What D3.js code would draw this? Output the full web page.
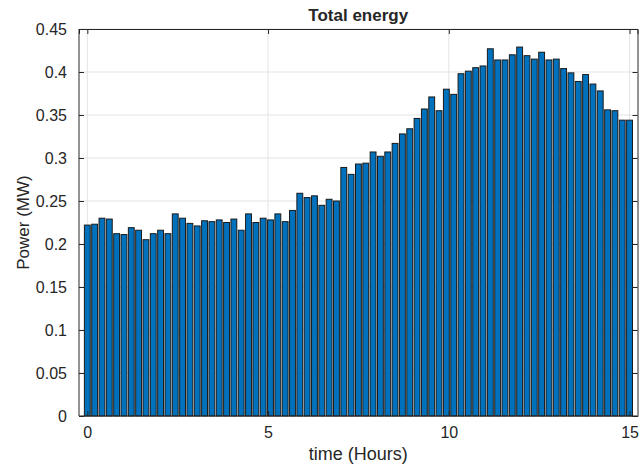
<!DOCTYPE html>
<html>
<head>
<meta charset="utf-8">
<script src="https://cdn.jsdelivr.net/npm/d3@7"></script>
<style>
  body { margin: 0; background: #fff; }
  text { font-family: "Liberation Sans", Arial, sans-serif; fill: #262626; }
</style>
</head>
<body>
<div id="chart"></div>
<script>
// power per interval (MW), 75 samples spread evenly over 0..15 h
var power = [
    0.222, 0.223, 0.230, 0.229, 0.212, 0.211, 0.219, 0.216, 0.205, 0.212,
    0.216, 0.212, 0.235, 0.230, 0.224, 0.221, 0.227, 0.226, 0.228, 0.225,
    0.229, 0.216, 0.235, 0.225, 0.230, 0.228, 0.235, 0.226, 0.239, 0.259,
    0.254, 0.256, 0.245, 0.252, 0.250, 0.289, 0.281, 0.293, 0.294, 0.307,
    0.302, 0.307, 0.317, 0.328, 0.334, 0.346, 0.357, 0.371, 0.355, 0.380,
    0.374, 0.398, 0.401, 0.405, 0.407, 0.427, 0.414, 0.414, 0.420, 0.429,
    0.419, 0.415, 0.423, 0.414, 0.415, 0.404, 0.399, 0.389, 0.397, 0.386,
    0.378, 0.356, 0.355, 0.344, 0.344
];
var hours = power.map(function(d, i) { return i * 15 / (power.length - 1); });
var xTicks = [0, 5, 10, 15];
var yTicks = [0, 0.05, 0.1, 0.15, 0.2, 0.25, 0.3, 0.35, 0.4, 0.45];

function drawChart() {
    var width = 640, height = 468;
    var pl = 79, pr = 637.5, pt = 29, pb = 416;

    var x = d3.scaleLinear().domain([-0.23, 15.22]).range([pl, pr]);
    var y = d3.scaleLinear().domain([0, 0.45]).range([pb, pt]);
    var step = x(hours[1]) - x(hours[0]);
    var barW = step * 0.8;

    var svg = d3.select("#chart").append("svg")
        .attr("width", width)
        .attr("height", height);

    // grid under the bars
    svg.append("g").selectAll("line")
        .data(xTicks).enter().append("line")
        .attr("x1", function(d) { return x(d); }).attr("x2", function(d) { return x(d); })
        .attr("y1", pt).attr("y2", pb)
        .attr("stroke", "#e3e3e3").attr("stroke-width", 1);
    svg.append("g").selectAll("line")
        .data(yTicks).enter().append("line")
        .attr("x1", pl).attr("x2", pr)
        .attr("y1", function(d) { return y(d); }).attr("y2", function(d) { return y(d); })
        .attr("stroke", "#e3e3e3").attr("stroke-width", 1);

    svg.append("g").selectAll("rect")
        .data(power).enter().append("rect")
        .attr("x", function(d, i) { return x(hours[i]) - barW / 2; })
        .attr("y", function(d) { return y(d); })
        .attr("width", barW)
        .attr("height", function(d) { return y(0) - y(d); })
        .attr("fill", "#0072BD")
        .attr("stroke", "#1a1a1a")
        .attr("stroke-width", 1);

    // axes, ticks pointing inward like matlab
    var xAxis = d3.axisBottom(x).tickValues(xTicks).tickSize(-5).tickPadding(11);
    var yAxis = d3.axisLeft(y).tickValues(yTicks).tickSize(-5).tickPadding(12)
        .tickFormat(function(d) { return String(+d.toFixed(2)); });

    var gx = svg.append("g").attr("transform", "translate(0," + pb + ")").call(xAxis);
    var gy = svg.append("g").attr("transform", "translate(" + pl + ",0)").call(yAxis);
    svg.append("g").attr("transform", "translate(0," + pt + ")")
        .call(d3.axisTop(x).tickValues(xTicks).tickSize(-5).tickFormat(""));
    svg.append("g").attr("transform", "translate(" + pr + ",0)")
        .call(d3.axisRight(y).tickValues(yTicks).tickSize(-5).tickFormat(""));

    svg.selectAll(".domain").attr("stroke", "#262626");
    svg.selectAll(".tick line").attr("stroke", "#262626");
    svg.selectAll(".tick text").style("font-size", "16px").attr("fill", "#262626")
        .style("font-family", "Liberation Sans, Arial, sans-serif");
    gy.selectAll(".domain").attr("d", "M0," + pt + "V" + pb);
    gx.selectAll(".domain").attr("d", "M" + pl + ",0H" + pr);

    svg.append("text")
        .attr("x", (pl + pr) / 2).attr("y", 21)
        .attr("text-anchor", "middle")
        .style("font-size", "17px").style("font-weight", "bold")
        .attr("fill", "#000")
        .text("Total energy");

    svg.append("text")
        .attr("x", (pl + pr) / 2).attr("y", 460)
        .attr("text-anchor", "middle")
        .style("font-size", "18px")
        .text("time (Hours)");

    svg.append("text")
        .attr("transform", "translate(29," + (pt + pb) / 2 + ") rotate(-90)")
        .attr("text-anchor", "middle")
        .style("font-size", "17px")
        .text("Power (MW)");
}

drawChart();
</script>
</body>
</html>
